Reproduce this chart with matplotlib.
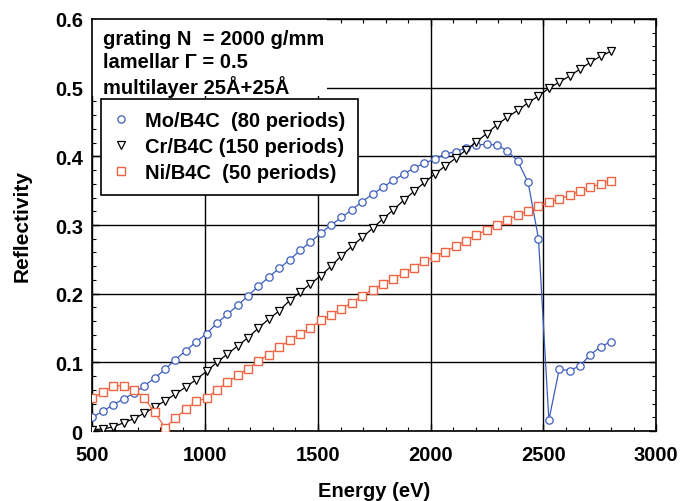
import numpy as np
import matplotlib
matplotlib.use('Agg')
import matplotlib.pyplot as plt
from matplotlib.lines import Line2D
from matplotlib.patches import Rectangle
from matplotlib.ticker import MultipleLocator

plt.rcParams['font.family'] = ['Liberation Sans', 'DejaVu Sans']
plt.rcParams['font.weight'] = 'bold'

# Energie (eV), 51 puntos de 500 a 2800
energy = [500 + 46 * i for i in range(51)]

# Mo/B4C (80 periods)
mo_b4c = [0.020, 0.029, 0.038, 0.047, 0.055, 0.066, 0.077, 0.090, 0.104, 0.117,
          0.130, 0.142, 0.157, 0.170, 0.183, 0.197, 0.211, 0.224, 0.237, 0.249,
          0.263, 0.275, 0.288, 0.300, 0.311, 0.322, 0.334, 0.345, 0.355, 0.365,
          0.374, 0.383, 0.390, 0.396, 0.403, 0.407, 0.412, 0.416, 0.418, 0.416,
          0.408, 0.393, 0.362, 0.280, 0.016, 0.090, 0.088, 0.095, 0.111, 0.123,
          0.130]

# Cr/B4C (150 periods)
cr_b4c = [0.002, 0.003, 0.006, 0.012, 0.018, 0.026, 0.035, 0.044, 0.054, 0.064,
          0.075, 0.087, 0.100, 0.112, 0.124, 0.136, 0.150, 0.163, 0.175, 0.190,
          0.202, 0.214, 0.226, 0.240, 0.255, 0.269, 0.282, 0.295, 0.309, 0.322,
          0.336, 0.349, 0.362, 0.374, 0.386, 0.397, 0.409, 0.421, 0.433, 0.446,
          0.457, 0.467, 0.478, 0.488, 0.499, 0.508, 0.517, 0.527, 0.537, 0.546,
          0.553]

# Ni/B4C (50 periods)
ni_b4c = [0.048, 0.057, 0.066, 0.066, 0.060, 0.048, 0.027, 0.005, 0.019, 0.032,
          0.043, 0.048, 0.060, 0.071, 0.081, 0.091, 0.102, 0.111, 0.122, 0.132,
          0.141, 0.150, 0.161, 0.169, 0.178, 0.187, 0.197, 0.206, 0.214, 0.222,
          0.230, 0.238, 0.247, 0.254, 0.261, 0.269, 0.277, 0.285, 0.293, 0.300,
          0.308, 0.314, 0.321, 0.327, 0.333, 0.338, 0.343, 0.349, 0.355, 0.360,
          0.364]

labels = ['Mo/B4C  (80 periods)', 'Cr/B4C (150 periods)', 'Ni/B4C  (50 periods)']
info_text = 'grating N  = 2000 g/mm\nlamellar \u0393 = 0.5\nmultilayer 25\u00c5+25\u00c5'

blue = '#3d5dbd'
red = '#ef6544'

fig = plt.figure(figsize=(6.8, 5.02), dpi=100)
ax = fig.add_axes([0.136, 0.1394, 0.829, 0.8208])

ax.plot(energy, mo_b4c, color=blue, lw=0.9, marker='o', ms=5.3,
        mfc='white', mec=blue, mew=0.9, zorder=3)
ax.plot(energy, cr_b4c, color='black', lw=0.9, marker='v', ms=6.3,
        mfc='white', mec='black', mew=0.9, zorder=3)
ax.plot(energy, ni_b4c, color=red, lw=0.9, marker='s', ms=6.1,
        mfc='white', mec=red, mew=1.0, zorder=3)

ax.set_xlim(500, 3000)
ax.set_ylim(0, 0.6)
ax.xaxis.set_major_locator(MultipleLocator(500))
ax.xaxis.set_minor_locator(MultipleLocator(100))
ax.yaxis.set_major_locator(MultipleLocator(0.1))
ax.yaxis.set_minor_locator(MultipleLocator(0.02))
ax.set_yticks([0, 0.1, 0.2, 0.3, 0.4, 0.5, 0.6])
ax.set_yticklabels(['0', '0.1', '0.2', '0.3', '0.4', '0.5', '0.6'])
ax.set_axisbelow(True)
ax.grid(True, which='major', color='black', lw=1.0)
ax.tick_params(which='both', direction='in', labelsize=14.5, top=True, right=True)
ax.tick_params(which='major', length=5, width=1)
ax.tick_params(which='minor', length=3, width=0.8)
ax.tick_params(axis='x', which='major', pad=10)
ax.tick_params(axis='y', which='major', pad=7)
for s in ax.spines.values():
    s.set_linewidth(1.2)

ax.set_xlabel('Energy (eV)', fontsize=14.5, fontweight='bold', labelpad=12)
ax.set_ylabel('Reflectivity', fontsize=15, fontweight='bold', labelpad=17)

# caja blanca detras del texto
ax.add_patch(Rectangle((0, 0.813), 0.4157, 0.187, transform=ax.transAxes,
                       facecolor='white', edgecolor='none', zorder=1))
ax.text(0.018, 0.975, info_text, transform=ax.transAxes, ha='left', va='top',
        fontsize=14.5, fontweight='bold', linespacing=1.22, zorder=4)

handles = [
    Line2D([], [], ls='none', marker='o', ms=5.2, mfc='white', mec=blue, mew=0.9),
    Line2D([], [], ls='none', marker='v', ms=6.0, mfc='white', mec='black', mew=0.9),
    Line2D([], [], ls='none', marker='s', ms=6.0, mfc='white', mec=red, mew=1.0),
]
leg = ax.legend(handles, labels, loc='upper left', bbox_to_anchor=(0.015, 0.806),
                borderaxespad=0, fancybox=False, framealpha=1, edgecolor='black',
                prop={'size': 14.5, 'weight': 'bold'}, handlelength=0.8,
                handletextpad=0.8, borderpad=0.6, labelspacing=0.36)
leg.get_frame().set_linewidth(1.2)
leg.set_zorder(5)

fig.savefig('out.png', dpi=100)
